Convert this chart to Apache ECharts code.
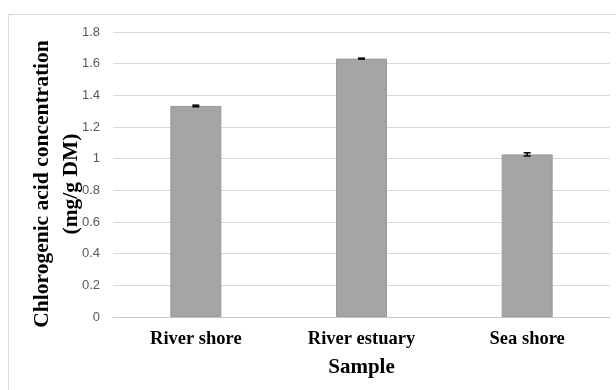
<!DOCTYPE html>
<html>
<head>
<meta charset="utf-8">
<script src="https://cdn.jsdelivr.net/npm/echarts@6/dist/echarts.min.js"></script>
<style>html,body{margin:0;padding:0;background:#fff}#c{width:616px;height:390px}</style>
</head>
<body>
<div id="c"></div>
<script>
var categories = ['River shore', 'River estuary', 'Sea shore'];
var values = [1.333, 1.632, 1.027];
var errors = [0.005, 0.003, 0.01];
var yTicks = { min: 0, max: 1.8, interval: 0.2 };

var chart = echarts.init(document.getElementById('c'), null, { renderer: 'canvas' });
var errData = categories.map(function (c, i) { return [i, values[i] - errors[i], values[i] + errors[i]]; });

chart.setOption({
  animation: false,
  backgroundColor: '#fff',
  graphic: [
    { type: 'rect', shape: { x: 8.5, y: 14.5, width: 700, height: 500 }, style: { fill: 'none', stroke: '#d9d9d9', lineWidth: 1 }, z: 0 },
    { type: 'text', x: 57, y: 184, rotation: Math.PI / 2, style: {
      text: 'Chlorogenic acid concentration\n(mg/g DM)', fill: '#000',
      font: 'bold 21.5px "Liberation Serif", "Times New Roman", serif',
      align: 'center', verticalAlign: 'middle', lineHeight: 29 } }
  ],
  grid: { left: 113, right: 6, top: 32, bottom: 73 },
  xAxis: {
    type: 'category', data: categories,
    name: 'Sample', nameLocation: 'middle', nameGap: 40,
    nameTextStyle: { fontFamily: '"Liberation Serif", serif', fontWeight: 'bold', fontSize: 21, color: '#000' },
    axisLine: { lineStyle: { color: '#c8c8c8', width: 1 } },
    axisTick: { show: false },
    axisLabel: { margin: 13, fontFamily: '"Liberation Serif", serif', fontWeight: 'bold', fontSize: 18.5, color: '#000' }
  },
  yAxis: {
    type: 'value', min: yTicks.min, max: yTicks.max, interval: yTicks.interval,
    axisLine: { show: false }, axisTick: { show: false },
    splitLine: { lineStyle: { color: '#d9d9d9', width: 1 } },
    axisLabel: { margin: 13, fontFamily: '"Liberation Sans", Arial, sans-serif', fontSize: 13, color: '#595959' }
  },
  series: [
    { type: 'bar', data: values, barWidth: 51,
      itemStyle: { color: '#a5a5a5', borderColor: '#999999', borderWidth: 1 } },
    { type: 'custom', data: errData, z: 10,
      renderItem: function (params, api) {
        var x = api.coord([api.value(0), api.value(1)])[0];
        var lo = api.coord([api.value(0), api.value(1)])[1];
        var hi = api.coord([api.value(0), api.value(2)])[1];
        var hw = 3.5;
        var st = { stroke: '#000', lineWidth: 1.5 };
        return { type: 'group', children: [
          { type: 'line', shape: { x1: x, y1: lo, x2: x, y2: hi }, style: st },
          { type: 'line', shape: { x1: x - hw, y1: lo, x2: x + hw, y2: lo }, style: st },
          { type: 'line', shape: { x1: x - hw, y1: hi, x2: x + hw, y2: hi }, style: st }
        ] };
      } }
  ]
});
</script>
</body>
</html>
